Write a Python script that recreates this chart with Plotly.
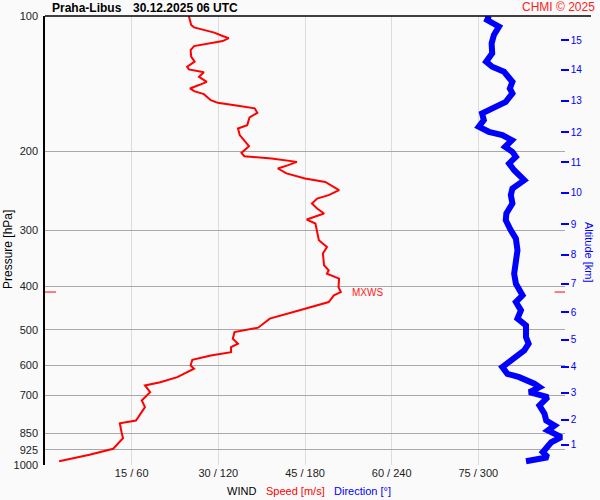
import plotly.graph_objects as go
import math

# ---- data ----
speed_p = [100, 104.7, 106.0, 107.5, 108.9, 110.8, 112.0, 113.7, 115.1, 116.7, 119.1, 123.2, 126.4, 129.7,
           131.5, 133.5, 136.6, 140.2, 142.5, 145.0, 147.0, 149.3, 154.0, 156.1, 158.5, 160.6, 164.3, 168.2,
           175.0, 178.0, 184.2, 195.0, 201.8, 205.2, 207.6, 211.3, 214.9, 218.6, 224.2, 230.1, 234.2, 244.3,
           250.6, 255.0, 261.6, 268.4, 275.4, 284.0, 289.9, 302.7, 315.8, 326.9, 338.1, 359.1, 368.5, 374.8,
           384.5, 401.5, 411.9, 419.0, 433.6, 448.6, 466.7, 472.1, 494.5, 505.8, 523.2, 536.9, 546.4, 560.6,
           570.2, 582.8, 600.1, 610.4, 637.3, 654.0, 665.1, 688.4, 718.3, 743.4, 796.0, 807.1, 845.2, 871.6,
           920.1, 948.8, 980.6]
speed_ms = [24.9, 25.3, 25.8, 27.5, 29.3, 30.75, 31.8, 30.75, 28.1, 25.8, 25.2, 25.3, 25.9, 24.6,
            24.9, 27.5, 26.65, 28.0, 26.65, 25.1, 25.8, 27.5, 28.7, 29.9, 33.4, 36.3, 36.75, 35.4,
            35.0, 33.4, 33.7, 35.3, 34.0, 34.5, 39.2, 43.6, 42.1, 40.3, 41.8, 45.0, 48.5, 50.9,
            49.1, 47.1, 46.2, 47.1, 48.3, 45.3, 46.8, 47.1, 47.4, 48.8, 48.1, 48.3, 49.1, 48.8,
            50.9, 50.8, 51.2, 50.0, 49.1, 45.0, 40.4, 38.9, 36.9, 32.8, 32.5, 33.4, 32.2, 32.2,
            28.7, 25.5, 25.2, 25.8, 22.9, 19.95, 17.3, 18.2, 16.75, 17.3, 15.75, 12.95, 13.25, 13.5,
            11.8, 7.7, 2.45]

dir_p = [100, 102.1, 105.6, 110.2, 115.1, 121.1, 126.4, 129.7, 133.1, 136.6, 140.2, 145.0, 148.7, 155.3,
         159.8, 164.8, 170.6, 176.5, 181.1, 184.2, 189.0, 195.6, 200.7, 205.9, 213.0, 220.5, 232.1, 242.2,
         250.6, 261.6, 275.4, 285.0, 300.1, 313.1, 332.4, 349.9, 374.8, 394.5, 419.0, 433.6, 452.5, 472.1,
         488.7, 518.9, 536.9, 555.7, 579.9, 605.3, 626.4, 637.3, 659.2, 671.0, 688.4, 706.3, 736.9, 768.9,
         796.0, 816.6, 837.8, 867.0, 889.6, 936.4, 960.8, 980.6]
direction_deg = [307.3, 306.1, 314.3, 310.8, 309.2, 309.6, 305.4, 309.6, 317.8, 321.3, 323.6, 321.8, 323.6, 319.0,
                 312.0, 302.6, 303.8, 300.3, 307.3, 316.6, 323.2, 318.5, 323.6, 326.0, 321.3, 324.8, 331.8, 323.6,
                 322.5, 323.6, 319.4, 319.0, 322.5, 326.0, 327.1, 326.0, 324.8, 326.0, 330.6, 326.0, 329.5, 327.1,
                 333.0, 333.0, 334.8, 331.8, 323.6, 316.6, 320.1, 328.3, 338.8, 342.3, 335.3, 348.1, 342.3, 345.8,
                 347.0, 352.8, 348.1, 357.5, 350.5, 344.6, 348.1, 333.0]

pressure_ticks = [100, 200, 300, 400, 500, 600, 700, 850, 925, 1000]
pressure_labels = [str(p) for p in pressure_ticks]

wind_ticks = [15, 30, 45, 60, 75, 90]
wind_labels = ["15 / 60", "30 / 120", "45 / 180", "60 / 240", "75 / 300", ""]

alt_km = [1, 2, 3, 4, 5, 6, 7, 8, 9, 10, 11, 12, 13, 14, 15]
alt_p = [901.6, 793.1, 690.2, 604.1, 525.9, 456.5, 394.5, 340.6, 291.0, 247.7, 211.9, 181.6, 154.5, 131.9, 113.1]

mxws_speed = 51.2
mxws_p = 411.9

FONT = "Liberation Sans, Arial, sans-serif"
BG = "#fafafa"

fig = go.Figure()

fig.add_trace(go.Scatter(x=direction_deg, y=dir_p, xaxis="x2", yaxis="y", mode="lines",
                         line=dict(color="#0000ff", width=6), hoverinfo="skip"))
fig.add_trace(go.Scatter(x=speed_ms, y=speed_p, mode="lines",
                         line=dict(color="#ff0000", width=2), hoverinfo="skip"))
# MXWS level markers at the edges
fig.add_trace(go.Scatter(x=[0, 1.9], y=[mxws_p, mxws_p], mode="lines",
                         line=dict(color="#ff0000", width=1), hoverinfo="skip"))
fig.add_trace(go.Scatter(x=[88.2, 90], y=[mxws_p, mxws_p], mode="lines",
                         line=dict(color="#ff0000", width=1), hoverinfo="skip"))
# carrier for the altitude axis
fig.add_trace(go.Scatter(x=[45] * len(alt_p), y=alt_p, yaxis="y2", mode="markers",
                         marker=dict(opacity=0), hoverinfo="skip"))

fig.update_layout(
    width=600, height=500,
    margin=dict(l=45, r=35, t=16, b=35, autoexpand=False),
    paper_bgcolor=BG, plot_bgcolor=BG,
    showlegend=False,
    font=dict(family=FONT, size=11, color="#222"),
    xaxis=dict(domain=[0, 1], range=[0, 90], tickvals=wind_ticks, ticktext=wind_labels,
               showgrid=True, gridcolor="#dcdcdc", gridwidth=1, zeroline=False, showline=False,
               ticks="", tickfont=dict(size=11, color="#222"), automargin=False),
    xaxis2=dict(overlaying="x", range=[0, 360], visible=False, automargin=False),
    yaxis=dict(type="log", range=[3, 2], tickvals=pressure_ticks, ticktext=pressure_labels,
               showgrid=True, gridcolor="#a8a8a8", gridwidth=1, zeroline=False,
               showline=True, linecolor="#000", linewidth=1.5, ticks="",
               ticklabelstandoff=3, tickfont=dict(size=11, color="#222"), automargin=False),
    yaxis2=dict(type="log", range=[3, 2], overlaying="y", side="right", anchor="free", position=0.99,
                tickvals=alt_p, ticktext=[str(a) for a in alt_km], showgrid=False, zeroline=False,
                showline=False, ticks="outside", ticklen=8, tickwidth=1.5, tickcolor="#0000ff",
                tickfont=dict(size=10, color="#0000ff"), automargin=False),
    shapes=[dict(type="line", xref="paper", yref="paper", x0=0, x1=1.05, y0=1, y1=1,
                 line=dict(color="#000", width=1.5))],
    annotations=[
        dict(text="<b>Praha-Libus</b>", xref="paper", yref="paper", x=(50 - 45) / 520, y=(465 - 8) / 449,
             xanchor="left", yanchor="middle", showarrow=False, font=dict(size=12, color="#000")),
        dict(text="<b>30.12.2025 06 UTC</b>", xref="paper", yref="paper", x=(131 - 45) / 520, y=(465 - 8) / 449,
             xanchor="left", yanchor="middle", showarrow=False, font=dict(size=12, color="#000")),
        dict(text="CHMI © 2025", xref="paper", yref="paper", x=(597 - 45) / 520, y=(465 - 7) / 449,
             xanchor="right", yanchor="middle", showarrow=False, font=dict(size=12, color="#ff2020")),
        dict(text="Pressure [hPa]", xref="paper", yref="paper", x=(8 - 45) / 520, y=(465 - 250) / 449,
             xanchor="center", yanchor="middle", textangle=-90, showarrow=False,
             font=dict(size=12, color="#000")),
        dict(text="Altitude [km]", xref="paper", yref="paper", x=(589 - 45) / 520, y=(465 - 252) / 449,
             xanchor="center", yanchor="middle", textangle=90, showarrow=False,
             font=dict(size=11, color="#0000ff")),
        dict(text="WIND", xref="paper", yref="paper", x=(225 - 45) / 520, y=(465 - 491) / 449,
             xanchor="left", yanchor="middle", showarrow=False, font=dict(size=11, color="#000")),
        dict(text="Speed [m/s]", xref="paper", yref="paper", x=(264 - 45) / 520, y=(465 - 491) / 449,
             xanchor="left", yanchor="middle", showarrow=False, font=dict(size=11, color="#ff0000")),
        dict(text="Direction [°]", xref="paper", yref="paper", x=(332 - 45) / 520, y=(465 - 491) / 449,
             xanchor="left", yanchor="middle", showarrow=False, font=dict(size=11, color="#0000ff")),
        dict(text="MXWS", xref="x", yref="y", x=mxws_speed + 1.6, y=math.log10(mxws_p),
             xanchor="left", yanchor="middle", showarrow=False, font=dict(size=10, color="#ff2020")),
    ],
)

fig.write_html("out.html", config={"displayModeBar": False},
               post_script="document.body.style.margin='0';")
